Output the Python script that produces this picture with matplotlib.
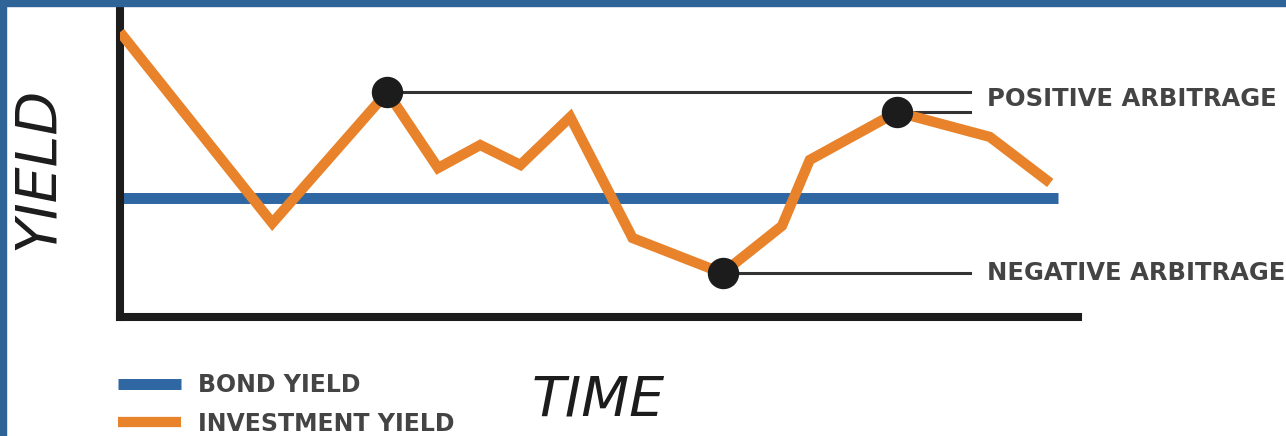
import matplotlib
matplotlib.use("Agg")
import matplotlib.pyplot as plt
from matplotlib.patches import Rectangle

# time runs 0..100, yield 0..10 (arbitrary units)
time = [0, 15.9, 27.9, 33.2, 37.6, 41.8, 47.0, 53.5, 62.9, 69.1, 72.0, 81.1, 90.8, 97.1]
investment_yield = [9.16, 3.02, 7.23, 4.79, 5.53, 4.89, 6.43, 2.54, 1.41, 2.93, 5.05, 6.59, 5.79, 4.31]
bond_time = [0, 97.9]
bond_yield = [3.83, 3.83]

# points that get a dot and a callout line
positive_idx = [2, 11]
negative_idx = [8]
callout_end = 88.7
label_x = 90.5

blue = "#2f67a3"
orange = "#e8832b"
dark = "#1c1c1c"
grey_text = "#444444"

fig = plt.figure(figsize=(12.86, 4.36), dpi=100)
ax = fig.add_axes([120 / 1286, 119 / 436, 958 / 1286, 311 / 436])
ax.set_xlim(0, 100)
ax.set_ylim(0, 10)

bond, = ax.plot(bond_time, bond_yield, color=blue, lw=7.9, solid_capstyle="butt",
                label="BOND YIELD", zorder=2)
inv, = ax.plot(time, investment_yield, color=orange, lw=7.4, solid_joinstyle="miter",
               solid_capstyle="butt", label="INVESTMENT YIELD", zorder=3)

# callout lines from the marked points out to the labels
for i in positive_idx + negative_idx:
    ax.plot([time[i], callout_end], [investment_yield[i]] * 2, color="#333333",
            lw=2.2, zorder=1, clip_on=False)
mark = positive_idx + negative_idx
ax.plot([time[i] for i in mark], [investment_yield[i] for i in mark], "o",
        color=dark, ms=21.6, zorder=4, clip_on=False)

ax.text(label_x, investment_yield[positive_idx[0]] - 0.22, "POSITIVE ARBITRAGE",
        fontsize=17.5, fontweight="bold", color=grey_text, va="center", ha="left")
ax.text(label_x, investment_yield[negative_idx[0]], "NEGATIVE ARBITRAGE",
        fontsize=17.5, fontweight="bold", color=grey_text, va="center", ha="left")

for s in ["top", "right"]:
    ax.spines[s].set_visible(False)
for s in ["left", "bottom"]:
    ax.spines[s].set_linewidth(5.8)
    ax.spines[s].set_color(dark)
    ax.spines[s].set_capstyle("projecting")
ax.set_xticks([])
ax.set_yticks([])

ax.set_xlabel("TIME", fontsize=40, style="italic", color=dark, va="center")
ax.xaxis.set_label_coords((598 - 120) / 958, (317 - 400) / 311)
ax.set_ylabel("YIELD", fontsize=41, style="italic", color=dark, va="center")
ax.yaxis.set_label_coords((38 - 120) / 958, (317 - 168) / 311)

fig.legend(handles=[bond, inv], loc="upper left",
           bbox_to_anchor=(118 / 1286, 1 - 373 / 436), frameon=False,
           prop={"weight": "bold", "size": 17}, labelcolor=grey_text,
           handlelength=2.67, handletextpad=0.72, labelspacing=0.62,
           borderpad=0, borderaxespad=0)

# blue frame along the top and left edge
fig.add_artist(Rectangle((0, 1 - 6 / 436), 1, 6 / 436, transform=fig.transFigure,
                         color="#2e6497", zorder=10))
fig.add_artist(Rectangle((0, 0), 6 / 1286, 1, transform=fig.transFigure,
                         color="#2e6497", zorder=10))

fig.savefig("out.png", dpi=100, facecolor="white")
